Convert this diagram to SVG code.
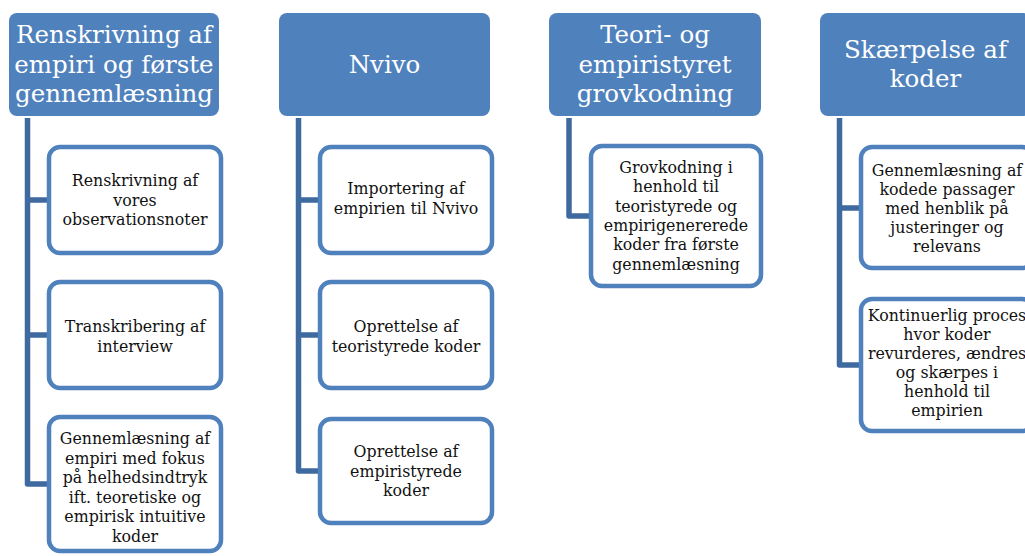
<svg xmlns="http://www.w3.org/2000/svg" width="1025" height="556" viewBox="0 0 1025 556">
<style>
.hd{fill:#4f81bd;}
.hdt{fill:#ffffff;font-family:"DejaVu Serif","Liberation Serif",serif;font-size:24.5px;text-anchor:middle;}
.bx{fill:#ffffff;stroke:#4f81bd;stroke-width:4.5;}
.bxt{fill:#111111;font-family:"DejaVu Serif","Liberation Serif",serif;font-size:15.8px;text-anchor:middle;}
.cn{fill:none;stroke:#3f6a9f;stroke-width:5.5;stroke-linejoin:round;}
</style>
<rect width="1025" height="556" fill="#ffffff"/>
<g id="connectors">
<path class="cn" d="M27.5,118 V484 H49 M27.5,200 H49 M27.5,335 H49"/>
<path class="cn" d="M298.5,118 V471 H320 M298.5,200 H320 M298.5,335 H320"/>
<path class="cn" d="M569,118 V216 H591"/>
<path class="cn" d="M839.5,118 V365 H861 M839.5,208 H861"/>
</g>
<g id="h1"><rect class="hd" x="9" y="13" width="210" height="103" rx="8"/>
<text class="hdt"><tspan x="114" y="43">Renskrivning af</tspan><tspan x="114" y="72.5">empiri og første</tspan><tspan x="114" y="101.5">gennemlæsning</tspan></text></g>
<g id="h2"><rect class="hd" x="279" y="13" width="211" height="103" rx="8"/>
<text class="hdt" x="384.5" y="73">Nvivo</text></g>
<g id="h3"><rect class="hd" x="549" y="13" width="212" height="103" rx="8"/>
<text class="hdt"><tspan x="655" y="43">Teori- og</tspan><tspan x="655" y="72.5">empiristyret</tspan><tspan x="655" y="101.5">grovkodning</tspan></text></g>
<g id="h4"><rect class="hd" x="820" y="13" width="211" height="103" rx="8"/>
<text class="hdt"><tspan x="925.5" y="58">Skærpelse af</tspan><tspan x="925.5" y="87">koder</tspan></text></g>
<g id="c1a"><rect class="bx" x="49" y="147" width="172" height="106" rx="11"/>
<text class="bxt"><tspan x="135" y="186">Renskrivning af</tspan><tspan x="135" y="205.5">vores</tspan><tspan x="135" y="225">observationsnoter</tspan></text></g>
<g id="c1b"><rect class="bx" x="49" y="282" width="172" height="106" rx="11"/>
<text class="bxt"><tspan x="135" y="332">Transkribering af</tspan><tspan x="135" y="351.5">interview</tspan></text></g>
<g id="c1c"><rect class="bx" x="49" y="417" width="172" height="134" rx="11"/>
<text class="bxt"><tspan x="135" y="444">Gennemlæsning af</tspan><tspan x="135" y="463.5">empiri med fokus</tspan><tspan x="135" y="483">på helhedsindtryk</tspan><tspan x="135" y="502.5">ift. teoretiske og</tspan><tspan x="135" y="522">empirisk intuitive</tspan><tspan x="135" y="541.5">koder</tspan></text></g>
<g id="c2a"><rect class="bx" x="320" y="147" width="172" height="106" rx="11"/>
<text class="bxt"><tspan x="406" y="194">Importering af</tspan><tspan x="406" y="213.5">empirien til Nvivo</tspan></text></g>
<g id="c2b"><rect class="bx" x="320" y="282" width="172" height="106" rx="11"/>
<text class="bxt"><tspan x="406" y="332">Oprettelse af</tspan><tspan x="406" y="351.5">teoristyrede koder</tspan></text></g>
<g id="c2c"><rect class="bx" x="320" y="419" width="172" height="104" rx="11"/>
<text class="bxt"><tspan x="406" y="457">Oprettelse af</tspan><tspan x="406" y="476.5">empiristyrede</tspan><tspan x="406" y="496">koder</tspan></text></g>
<g id="c3a"><rect class="bx" x="591" y="146" width="170" height="140" rx="11"/>
<text class="bxt"><tspan x="676" y="173">Grovkodning i</tspan><tspan x="676" y="192.3">henhold til</tspan><tspan x="676" y="211.6">teoristyrede og</tspan><tspan x="676" y="230.9">empirigenererede</tspan><tspan x="676" y="250.2">koder fra første</tspan><tspan x="676" y="269.5">gennemlæsning</tspan></text></g>
<g id="c4a"><rect class="bx" x="861" y="147" width="172" height="121" rx="11"/>
<text class="bxt"><tspan x="947" y="176">Gennemlæsning af</tspan><tspan x="947" y="195">kodede passager</tspan><tspan x="947" y="214">med henblik på</tspan><tspan x="947" y="233">justeringer og</tspan><tspan x="947" y="252">relevans</tspan></text></g>
<g id="c4b"><rect class="bx" x="861" y="299" width="172" height="132" rx="11"/>
<text class="bxt"><tspan x="947" y="320.5">Kontinuerlig proces</tspan><tspan x="947" y="339.5">hvor koder</tspan><tspan x="947" y="358.5">revurderes, ændres</tspan><tspan x="947" y="377.5">og skærpes i</tspan><tspan x="947" y="396.5">henhold til</tspan><tspan x="947" y="415.5">empirien</tspan></text></g>
</svg>
